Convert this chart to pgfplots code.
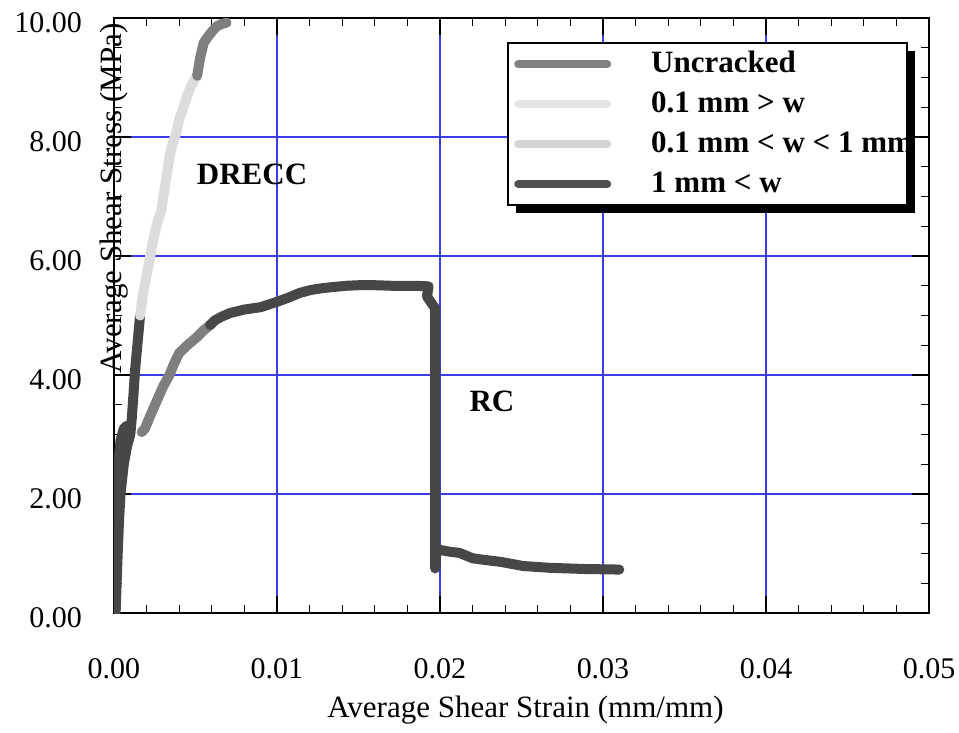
\documentclass[border=0pt]{standalone}
\usepackage{fontspec}
\setmainfont{Liberation Serif}
\usepackage{pgfplots}
\pgfplotsset{compat=1.18}
\usetikzlibrary{shadows}
\definecolor{cdark}{HTML}{474747}
\definecolor{cmed}{HTML}{7F7F7F}
\definecolor{clight}{HTML}{DCDCDC}
\definecolor{legdark}{HTML}{505050}
\definecolor{legmed}{HTML}{808080}
\definecolor{leglightA}{HTML}{E6E6E6}
\definecolor{leglightB}{HTML}{D4D4D4}
\definecolor{gridblue}{RGB}{60,60,230}
\begin{document}
\begin{tikzpicture}
\path[use as bounding box] (-114pt,-119pt) rectangle (845pt,613pt);
\begin{axis}[
  at={(0pt,0pt)}, anchor=south west,
  scale only axis, width=815pt, height=595pt,
  xmin=0, xmax=0.05, ymin=0, ymax=10,
  xtick={0,0.01,0.02,0.03,0.04,0.05},
  ytick={0,2,4,6,8,10},
  scaled x ticks=false, scaled y ticks=false,
  minor x tick num=4, minor y tick num=3,
  major tick length=17pt, minor tick length=8pt,
  tick align=inside,
  every tick/.style={black, line width=1.1pt},
  axis line style={black, line width=1.6pt},
  grid=major,
  major grid style={gridblue, line width=1.1pt},
  /pgf/number format/assume math mode=true,
  xticklabel={\pgfmathprintnumber[fixed, fixed zerofill, precision=2]{\tick}},
  yticklabel={\pgfmathprintnumber[fixed, fixed zerofill, precision=2]{\tick}},
  ticklabel style={font=\fontsize{30}{36}\selectfont},
  xticklabel style={anchor=north, inner sep=0pt, yshift=-45pt},
  yticklabel style={anchor=east, inner sep=0pt, xshift=-32pt, yshift=-4.5pt},
  xlabel={Average Shear Strain (mm/mm)},
  ylabel={Average Shear Stress (MPa)},
  label style={font=\fontsize{31}{37}\selectfont},
  xlabel style={at={(axis description cs:0.5,0)}, anchor=base, inner sep=0pt, yshift=-104pt, xshift=4pt},
  ylabel style={at={(axis description cs:0,0.711)}, anchor=center, inner sep=0pt, xshift=-8.5pt, rotate=0},
  legend image code/.code={%
    \begin{scope}[#1]
      \pgfsetlinewidth{8pt}\pgfsetroundcap
      \pgfpathmoveto{\pgfpointorigin}\pgfpathlineto{\pgfpoint{89pt}{0pt}}%
      \pgfusepath{stroke}%
    \end{scope}},
  legend style={
    at={(axis cs:0.02411,9.597)}, anchor=north west,
    draw=black, line width=2.5pt, fill=white,
    inner xsep=6pt, inner ysep=1pt,
    font=\fontsize{31}{37}\selectfont\bfseries,
    nodes={inner xsep=0pt, inner ysep=6pt, text height=22pt, text depth=6pt},
    column sep=40pt, row sep=0pt,
    general shadow={shadow xshift=8pt, shadow yshift=-8pt, fill=black},
  },
  legend cell align=left,
]
% RC initial (dark)
\addplot[forget plot, cdark, line width=10pt, line cap=round, line join=round] coordinates {
(0.0000,0.00) (0.0000,0.6) (0.0001,1.2) (0.0001,1.8) (0.0002,2.3) (0.0003,2.6) (0.0004,2.9) (0.0006,3.1) (0.0008,3.15)
};
% DRECC initial (dark)
\addplot[forget plot, cdark, line width=10pt, line cap=round, line join=round] coordinates {
(0.0001,0.0) (0.0002,0.8) (0.0003,1.5) (0.0004,2.0) (0.0006,2.5) (0.0008,2.8) (0.0010,3.0) (0.0011,3.3) (0.0012,3.7) (0.0013,4.1) (0.0014,4.4) (0.0015,4.7) (0.0016,5.0)
};
% RC medium
\addplot[forget plot, cmed, line width=10pt, line cap=round, line join=round] coordinates {
(0.0017,3.04) (0.0019,3.1) (0.0022,3.3) (0.0026,3.55) (0.0030,3.8) (0.0034,4.0) (0.0037,4.2) (0.0040,4.37) (0.0045,4.5) (0.0051,4.64) (0.0055,4.75) (0.0059,4.84)
};
% RC dark plateau and drop
\addplot[forget plot, cdark, line width=10pt, line cap=round, line join=round] coordinates {
(0.0059,4.84) (0.0062,4.92) (0.0066,4.98) (0.0071,5.04) (0.0080,5.10) (0.0090,5.14) (0.0100,5.23) (0.0107,5.30) (0.0114,5.38) (0.0121,5.43) (0.0128,5.46) (0.0135,5.48) (0.0143,5.50) (0.0151,5.51) (0.0159,5.51) (0.0170,5.50) (0.0184,5.50) (0.0193,5.49) (0.0192,5.32) (0.0197,5.12) (0.0197,3.00) (0.0197,0.75) (0.0198,1.08) (0.0200,1.06) (0.0206,1.03) (0.0212,1.01) (0.0220,0.92) (0.0228,0.89) (0.0237,0.86) (0.0251,0.79) (0.0267,0.76) (0.0288,0.74) (0.0310,0.73)
};
% DRECC light
\addplot[forget plot, clight, line width=10pt, line cap=round, line join=round] coordinates {
(0.0016,5.0) (0.0018,5.4) (0.0021,5.82) (0.0024,6.27) (0.0027,6.6) (0.0029,6.75) (0.0030,6.95) (0.0032,7.3) (0.0034,7.66) (0.0036,7.9) (0.0038,8.05) (0.0040,8.3) (0.0042,8.45) (0.0045,8.7) (0.0048,8.9) (0.0051,9.03)
};
% DRECC medium
\addplot[forget plot, cmed, line width=10pt, line cap=round, line join=round] coordinates {
(0.0051,9.03) (0.0052,9.2) (0.0053,9.35) (0.0055,9.58) (0.0058,9.7) (0.0061,9.8) (0.0063,9.86) (0.0066,9.9) (0.0069,9.92)
};
\addlegendimage{legmed}
\addlegendentry{\makebox[250pt][l]{Uncracked}}
\addlegendimage{leglightA}
\addlegendentry{\makebox[250pt][l]{0.1 mm > w}}
\addlegendimage{leglightB}
\addlegendentry{\makebox[250pt][l]{0.1 mm < w < 1 mm}}
\addlegendimage{legdark}
\addlegendentry{\makebox[250pt][l]{1 mm < w}}
\node[font=\fontsize{31}{37}\selectfont\bfseries] at (axis cs:0.00847,7.38) {DRECC};
\node[font=\fontsize{31}{37}\selectfont\bfseries] at (axis cs:0.02319,3.56) {RC};
\end{axis}
\end{tikzpicture}
\end{document}
